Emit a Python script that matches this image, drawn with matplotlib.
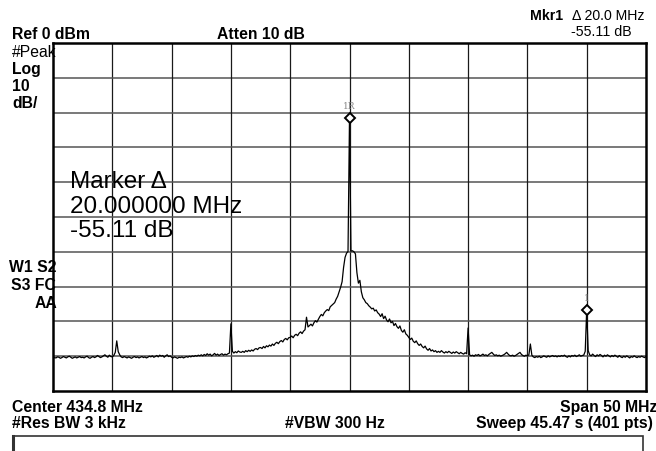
import numpy as np
import matplotlib
matplotlib.use("Agg")
import matplotlib.pyplot as plt
from matplotlib.patches import Rectangle

plt.rcParams['font.family'] = ['Liberation Sans', 'DejaVu Sans']

# instrument settings
center_mhz = 434.8
span_mhz = 50.0
ref_dbm = 0.0
db_per_div = 10

# trace (dBm), 401 sweep points
levels = [
    -90.6, -90.4, -90.5, -90.2, -90.3, -90.6, -90.4, -90.1, -90.3, -90.5, -90.2, -90.0, -90.3, -90.6, -90.4, -90.2, -90.5, -90.3, -90.1, -90.4,
    -90.3, -90.5, -90.2, -90.0, -90.4, -90.6, -90.3, -90.1, -90.4, -90.2, -89.8, -90.1, -90.4, -90.2, -89.9, -89.6, -90.0, -90.3, -89.7, -90.1,
    -90.2, -89.8, -88.9, -85.6, -88.7, -89.6, -90.2, -90.4, -90.1, -90.3, -90.5, -90.2, -90.4, -90.6, -90.3, -90.1, -90.4, -90.2, -90.5, -90.3,
    -90.1, -90.4, -90.2, -90.5, -90.3, -90.0, -90.2, -89.9, -90.3, -90.1, -89.8, -90.2, -89.7, -90.0, -89.8, -90.3, -89.9, -89.6, -90.1, -89.9,
    -90.3, -90.5, -90.2, -90.4, -90.6, -90.3, -90.4, -90.2, -90.5, -90.3, -90.1, -90.3, -90.0, -90.2, -89.9, -90.1, -89.8, -90.0, -89.7, -89.9,
    -89.6, -89.9, -89.5, -89.8, -89.3, -89.7, -89.4, -89.9, -89.6, -89.2, -89.7, -89.4, -89.8, -89.5, -89.3, -89.7, -89.4, -89.6, -89.3, -89.1,
    -80.7, -88.6, -89.1, -88.7, -89.0, -88.5, -88.8, -88.9, -88.6, -88.9, -88.4, -88.7, -88.3, -88.6, -88.2, -88.5, -88.0, -87.8, -88.1, -87.6,
    -87.5, -87.8, -87.2, -87.6, -87.0, -87.3, -86.8, -87.1, -86.5, -86.9, -86.3, -86.0, -86.4, -85.8, -85.5, -85.9, -85.2, -84.9, -85.3, -84.7,
    -84.6, -84.2, -84.7, -84.0, -83.7, -84.1, -83.4, -83.0, -83.5, -82.8, -82.4, -78.8, -81.6, -81.2, -80.8, -81.3, -80.4, -79.8, -80.2, -79.4,
    -78.6, -78.0, -78.4, -77.5, -77.0, -76.6, -76.9, -75.8, -75.4, -75.0, -74.6, -73.6, -72.8, -71.5, -70.2, -68.6, -64.5, -61.6, -60.4, -59.9,
    -21.6, -59.8, -59.7, -60.0, -60.6, -66.0, -69.0, -68.2, -71.5, -73.2, -73.8, -74.6, -74.9, -75.5, -75.9, -76.4, -76.2, -77.0, -76.7, -77.5,
    -77.9, -78.6, -77.8, -79.2, -78.5, -79.6, -80.1, -79.3, -80.4, -80.0, -81.2, -80.6, -81.5, -82.0, -81.3, -82.6, -83.1, -82.4, -83.6, -84.0,
    -84.6, -85.2, -84.8, -85.7, -86.1, -85.6, -86.4, -86.9, -86.5, -87.2, -87.6, -87.1, -87.9, -88.3, -87.8, -88.5, -88.2, -88.7, -88.4, -88.9,
    -88.6, -88.9, -88.4, -88.8, -89.1, -88.7, -89.0, -88.6, -88.9, -89.2, -88.8, -89.1, -88.7, -89.0, -89.3, -88.9, -89.2, -89.4, -89.0, -89.3,
    -81.9, -89.6, -89.9, -89.7, -90.0, -89.6, -89.8, -89.5, -89.9, -89.7, -89.4, -89.8, -89.6, -89.9, -89.5, -89.2, -88.9, -89.4, -89.8, -89.6,
    -89.9, -89.7, -90.0, -89.8, -89.6, -89.3, -88.9, -89.4, -89.8, -89.9, -89.7, -90.0, -89.8, -89.5, -89.2, -88.9, -89.5, -89.8, -90.0, -89.7,
    -89.9, -89.6, -86.5, -89.7, -90.2, -90.4, -90.1, -90.3, -90.0, -90.4, -90.2, -89.9, -90.1, -90.3, -89.9, -90.2, -90.0, -89.8, -90.1, -89.9,
    -90.2, -89.9, -90.1, -89.8, -90.0, -89.7, -90.1, -90.3, -89.9, -90.2, -89.8, -90.0, -89.7, -90.1, -89.9, -89.6, -90.0, -89.8, -89.7, -88.6,
    -76.7, -88.4, -89.6, -89.9, -89.4, -89.8, -90.1, -89.6, -89.9, -89.5, -89.8, -90.2, -89.7, -90.0, -89.6, -89.9, -90.2, -89.8, -90.1, -89.7,
    -90.0, -90.3, -89.8, -90.2, -90.4, -90.0, -90.3, -89.9, -90.2, -90.5, -90.1, -90.3, -89.9, -90.2, -90.4, -90.1, -90.3, -90.0, -90.2, -90.4,
    -90.1,
]

# markers: reference (1R) and delta (1)
marker_freqs = [434.8, 454.8]
marker_levels = [-21.6, -76.7]
marker_labels = ["1R", "1"]

W, H = 656, 452


def fx(x):
    return x / W


def fy(y):
    return 1 - y / H


freqs = np.linspace(center_mhz - span_mhz / 2, center_mhz + span_mhz / 2, len(levels))

fig = plt.figure(figsize=(W / 100, H / 100), dpi=100)
ax = fig.add_axes([fx(53), fy(392), (646 - 53) / W, (392 - 44) / H])

ax.set_xlim(center_mhz - span_mhz / 2, center_mhz + span_mhz / 2)
ax.set_ylim(ref_dbm - 10 * db_per_div, ref_dbm)

# graticule 10 x 10
for k in range(1, 10):
    ax.axvline(center_mhz - span_mhz / 2 + k * span_mhz / 10, color='#1a1a1a', lw=0.9, zorder=1)
    ax.axhline(ref_dbm - k * db_per_div, color='#555555', lw=1.1, zorder=1)

ax.plot(freqs, levels, color='black', lw=0.9, zorder=3)

ax.plot(marker_freqs, marker_levels, linestyle='none', marker='D', ms=5,
        mfc='white', mec='black', mew=1.4, zorder=4)
for f, l, t in zip(marker_freqs, marker_levels, marker_labels):
    ax.annotate(t, (f, l), xytext=(0, 6), textcoords='offset points',
                ha='center', va='bottom', fontsize=6.5, color='#888888',
                family='DejaVu Serif')

ax.set_xticks([])
ax.set_yticks([])
for sp in ax.spines.values():
    sp.set_linewidth(1.8)
    sp.set_color('black')

bold = dict(fontsize=11.3, fontweight='bold', va='baseline')
norm = dict(fontsize=11.3, va='baseline')
small = dict(fontsize=10.2, va='baseline')

fig.text(fx(12), fy(39), "Ref 0 dBm", **bold)
fig.text(fx(217), fy(39), "Atten 10 dB", **bold)
fig.text(fx(530), fy(20), "Mkr1", fontsize=10.2, fontweight='bold', va='baseline')
fig.text(fx(572), fy(20), "\u0394 20.0 MHz", **small)
fig.text(fx(632), fy(36), "-55.11 dB", ha='right', **small)

fig.text(fx(12), fy(57), "#Peak", **norm)
fig.text(fx(12), fy(74), "Log", **bold)
fig.text(fx(12), fy(91), "10", **bold)
fig.text(fx(12), fy(108), "dB/", **bold)

fig.text(fx(56), fy(272), "W1 S2", ha='right', **bold)
fig.text(fx(56), fy(290), "S3 FC", ha='right', **bold)
fig.text(fx(57), fy(308), "AA", ha='right', **bold)

big = dict(fontsize=17.5, va='baseline')
fig.text(fx(70), fy(188), "Marker \u0394", **big)
fig.text(fx(70), fy(213), "20.000000 MHz", **big)
fig.text(fx(70), fy(237), "-55.11 dB", **big)

fig.text(fx(12), fy(412), "Center 434.8 MHz", **bold)
fig.text(fx(12), fy(428), "#Res BW 3 kHz", **bold)
fig.text(fx(285), fy(428), "#VBW 300 Hz", **bold)
fig.text(fx(560), fy(412), "Span 50 MHz", **bold)
fig.text(fx(653), fy(428), "Sweep 45.47 s (401 pts)", ha='right', **bold)

# empty message box at the bottom
fig.add_artist(Rectangle((fx(13), fy(470)), (643 - 13) / W, 33 / H,
                         transform=fig.transFigure, fill=False,
                         edgecolor='#333333', lw=1.2))
fig.add_artist(plt.Line2D([fx(13), fx(13)], [fy(437), 0], transform=fig.transFigure,
                          color='#333333', lw=2.2))

fig.savefig("out.png", dpi=100)
